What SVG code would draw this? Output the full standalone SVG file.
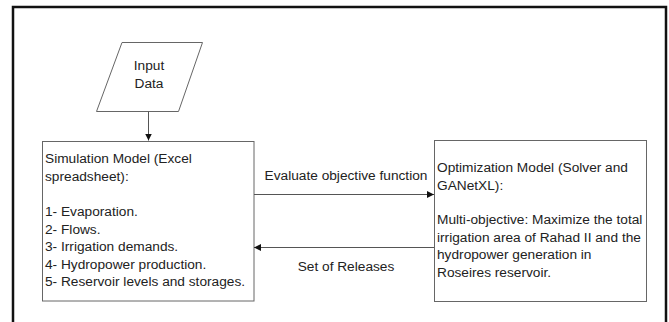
<svg xmlns="http://www.w3.org/2000/svg" width="669" height="322" viewBox="0 0 669 322">
<defs>
<style>
text{font-family:"Liberation Sans",Arial,sans-serif;font-size:13.7px;fill:#222}
.box{fill:#fff;stroke:#666;stroke-width:1}
.conn{fill:none;stroke:#555;stroke-width:1}
</style>
<marker id="ah" viewBox="0 0 10 10" refX="10" refY="5" markerWidth="7" markerHeight="7" markerUnits="userSpaceOnUse" orient="auto">
<path d="M0,0 L10,5 L0,10 z" fill="#111"/>
</marker>
</defs>
<rect width="669" height="322" fill="#fff"/>
<path d="M13,322 V7 H666 V322" fill="none" stroke="#111" stroke-width="2.5"/>
<g id="input">
<polygon class="box" points="122,42.5 202.5,42.5 178.5,111.5 96.5,111.5"/>
<text x="149" y="70" text-anchor="middle">Input</text>
<text x="149" y="87.5" text-anchor="middle">Data</text>
</g>
<g id="simulation">
<rect class="box" x="42.5" y="141.5" width="211.5" height="159.5"/>
<text x="45" y="163">Simulation Model (Excel</text>
<text x="45" y="180.5">spreadsheet):</text>
<text x="45" y="216">1- Evaporation.</text>
<text x="45" y="233.5">2- Flows.</text>
<text x="45" y="251">3- Irrigation demands.</text>
<text x="45" y="268.5">4- Hydropower production.</text>
<text x="45" y="286">5- Reservoir levels and storages.</text>
</g>
<g id="optimization">
<rect class="box" x="434.5" y="140.5" width="212" height="161"/>
<text x="437" y="172">Optimization Model (Solver and</text>
<text x="437" y="189.5">GANetXL):</text>
<text x="437" y="224">Multi-objective: Maximize the total</text>
<text x="437" y="241.5">irrigation area of Rahad II and the</text>
<text x="437" y="259">hydropower generation in</text>
<text x="437" y="276.5">Roseires reservoir.</text>
</g>
<g id="connectors">
<line class="conn" x1="148.5" y1="111.5" x2="148.5" y2="140.5" stroke="#888" marker-end="url(#ah)"/>
<line class="conn" x1="254" y1="194.5" x2="434" y2="194.5" marker-end="url(#ah)"/>
<line class="conn" x1="434" y1="247.5" x2="254" y2="247.5" marker-end="url(#ah)"/>
<text x="346" y="180" text-anchor="middle">Evaluate objective function</text>
<text x="346" y="271" text-anchor="middle">Set of Releases</text>
</g>
</svg>
